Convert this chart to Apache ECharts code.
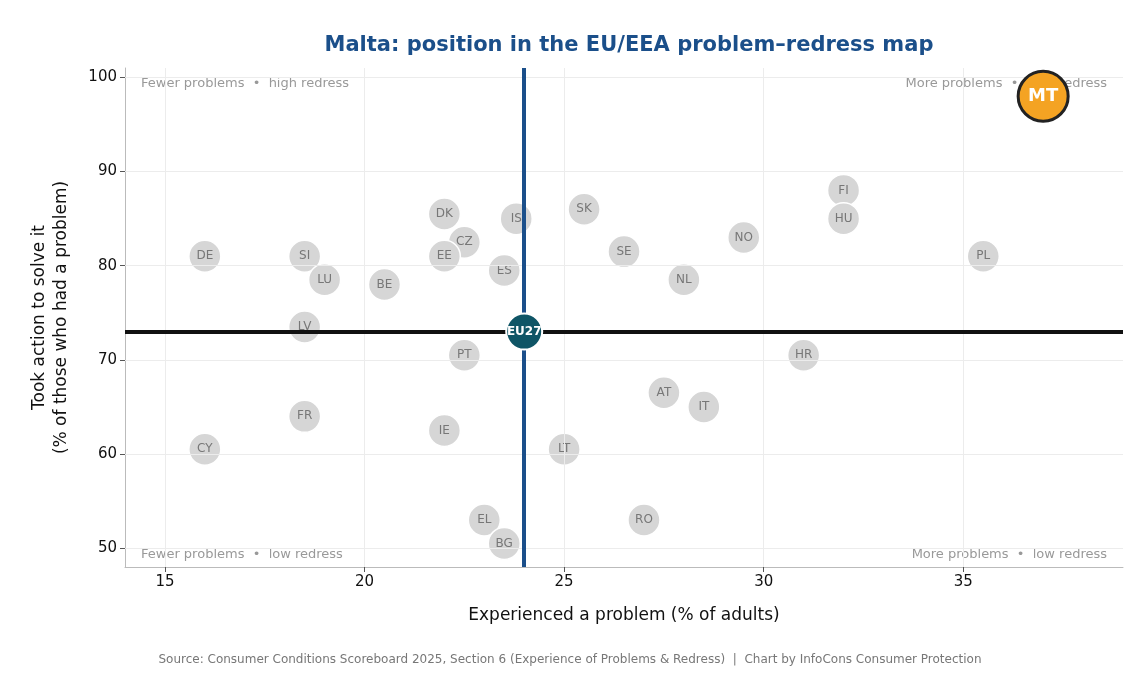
<!DOCTYPE html>
<html><head><meta charset="utf-8">
<script src="https://cdn.jsdelivr.net/npm/echarts@6/dist/echarts.min.js"></script>
<style>html,body{margin:0;padding:0;background:#fff}#c{width:1140px;height:675px}</style>
</head><body><div id="c"></div>
<script>
var codes = ['DE','SI','LU','BE','DK','CZ','EE','IS','ES','SK','SE','NL','NO','FI','HU','PL','LV','PT','HR','AT','IT','FR','IE','CY','LT','EL','BG','RO'];
var problems = [16,18.5,19,20.5,22,22.5,22,23.8,23.5,25.5,26.5,28,29.5,32,32,35.5,18.5,22.5,31,27.5,28.5,18.5,22,16,25,23,23.5,27];
var redress = [81,81,78.5,78,85.5,82.5,81,85,79.5,86,81.5,78.5,83,88,85,81,73.5,70.5,70.5,66.5,65,64,62.5,60.5,60.5,53,50.5,53];
var eu27 = [24, 73];
var malta = [37, 98];
var xTicks = [15, 20, 25, 30, 35];
var yTicks = [50, 60, 70, 80, 90, 100];

var chart = echarts.init(document.getElementById('c'));
var font = 'DejaVu Sans';
var others = codes.map(function (c, i) { return { name: c, value: [problems[i], redress[i]] }; });
var gridLines = xTicks.map(function (v) { return { xAxis: v }; })
  .concat(yTicks.map(function (v) { return { yAxis: v }; }));

chart.setOption({
  textStyle: { fontFamily: font },
  title: {
    text: 'Malta: position in the EU/EEA problem\u2013redress map',
    left: 624, textAlign: 'center', top: 30,
    textStyle: { color: '#1b4f8a', fontSize: 21, fontWeight: 'bold', fontFamily: font }
  },
  grid: { left: 125, right: 17, top: 68, bottom: 108 },
  xAxis: {
    type: 'value', min: 14, max: 39,
    name: 'Experienced a problem (% of adults)', nameLocation: 'middle', nameGap: 40,
    nameTextStyle: { fontSize: 17, color: '#111' },
    axisLine: { show: true, lineStyle: { color: '#bbb' } },
    axisTick: { show: true, customValues: xTicks, lineStyle: { color: '#555' } },
    axisLabel: { fontSize: 15, color: '#111', customValues: xTicks },
    splitLine: { show: false }
  },
  yAxis: {
    type: 'value', min: 48, max: 101,
    name: 'Took action to solve it\n(% of those who had a problem)', nameLocation: 'middle', nameGap: 52,
    nameTextStyle: { fontSize: 17, color: '#111', lineHeight: 22 },
    axisLine: { show: true, lineStyle: { color: '#bbb' } },
    axisTick: { show: true, customValues: yTicks, lineStyle: { color: '#555' } },
    axisLabel: { fontSize: 15, color: '#111', customValues: yTicks },
    splitLine: { show: false }
  },
  graphic: [
    { type: 'text', left: 141, top: 77, style: { text: 'Fewer problems  \u2022  high redress', fill: '#999', fontSize: 13, fontFamily: font } },
    { type: 'text', right: 33, top: 77, style: { text: 'More problems  \u2022  high redress', fill: '#999', fontSize: 13, fontFamily: font } },
    { type: 'text', left: 141, top: 548, style: { text: 'Fewer problems  \u2022  low redress', fill: '#999', fontSize: 13, fontFamily: font } },
    { type: 'text', right: 33, top: 548, style: { text: 'More problems  \u2022  low redress', fill: '#999', fontSize: 13, fontFamily: font } },
    { type: 'text', left: 'center', top: 654, style: { text: 'Source: Consumer Conditions Scoreboard 2025, Section 6 (Experience of Problems & Redress)  |  Chart by InfoCons Consumer Protection', fill: '#777', fontSize: 12, fontFamily: font } }
  ],
  series: [
    {
      type: 'scatter', data: [], z: 1,
      markLine: {
        silent: true, symbol: 'none', label: { show: false }, animation: false,
        lineStyle: { color: '#ececec', width: 1, type: 'solid' },
        data: gridLines
      }
    },
    {
      type: 'scatter', data: others, symbolSize: 32, z: 3,
      itemStyle: { color: '#d6d6d6', opacity: 1, borderColor: '#fff', borderWidth: 1.5 },
      label: { show: true, position: 'inside', formatter: '{b}', color: '#777', fontSize: 12 },
      markLine: {
        silent: true, symbol: 'none', label: { show: false },
        data: [
          { xAxis: eu27[0], lineStyle: { color: '#1b4f8a', width: 4, type: 'solid' } },
          { yAxis: eu27[1], lineStyle: { color: '#111', width: 4, type: 'solid' } }
        ]
      }
    },
    {
      type: 'scatter', data: [{ name: 'EU27', value: eu27 }], symbolSize: 36, z: 5,
      itemStyle: { color: '#0f5566', opacity: 1, borderColor: '#fff', borderWidth: 2 },
      label: { show: true, position: 'inside', formatter: '{b}', color: '#fff', fontSize: 12, fontWeight: 'bold' }
    },
    {
      type: 'scatter', data: [{ name: 'MT', value: malta }], symbolSize: 50, z: 6,
      itemStyle: { color: '#f4a323', opacity: 1, borderColor: '#222', borderWidth: 3 },
      label: { show: true, position: 'inside', formatter: '{b}', color: '#fff', fontSize: 18, fontWeight: 'bold' }
    }
  ]
});
</script></body></html>
